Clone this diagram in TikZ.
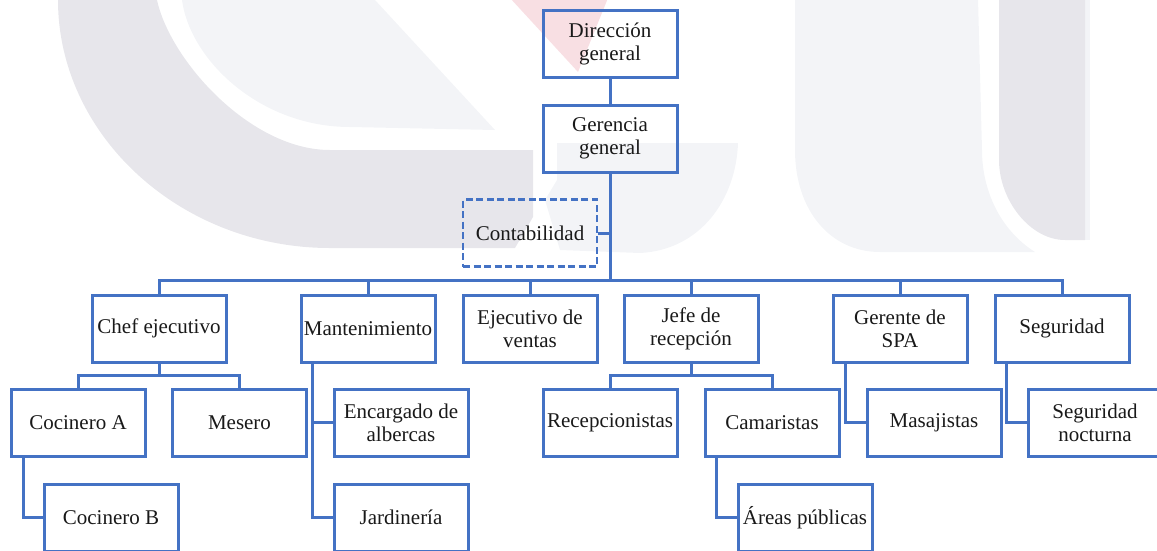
\documentclass[tikz,border=0pt]{standalone}
\usepackage{fontspec}
\setmainfont{Liberation Serif}
\usetikzlibrary{calc}
\definecolor{orgblue}{HTML}{4472C4}
\definecolor{wmdark}{HTML}{E7E6EB}
\definecolor{wmlight}{HTML}{F3F4F7}
\definecolor{wmpink}{HTML}{F8DFE3}
\begin{document}
\begin{tikzpicture}[x=1pt,y=-1pt,
  box/.style={draw=orgblue, line width=3pt, minimum width=134pt, minimum height=67pt,
    inner sep=1pt, align=center, font=\fontsize{21}{23}\selectfont, text=black!90},
  dbox/.style={box, dash pattern=on 7pt off 3.5pt, line width=2.4pt},
  link/.style={draw=orgblue, line width=3pt}]
\useasboundingbox (0,0) rectangle (1157,550);
\clip (0,0) rectangle (1157,550);
% faint background watermark
\fill[wmlight] (182,-2) -- (182,0) .. controls (190,60) and (260,127) .. (350,127) -- (495,130) -- (375,0) -- (375,-2) -- cycle;
\fill[wmdark] (58,-2) -- (58,0) .. controls (58,135) and (180,248) .. (330,248) -- (515,248) -- (533,217) -- (533,150) -- (330,150) .. controls (250,150) and (170,60) .. (157,0) -- (157,-2) -- cycle;
\fill[wmlight] (557,143) -- (738,143) .. controls (736,200) and (700,250) .. (640,253) -- (560,250) -- (545,200) -- (557,180) -- cycle;
\fill[wmlight] (795,-2) -- (795,150) .. controls (795,210) and (830,252) .. (880,252) -- (1035,252) .. controls (1000,230) and (982,190) .. (982,150) -- (978,-2) -- cycle;
\fill[wmlight] (1084,-2) -- (1090,-2) -- (1090,240) -- (1084,240) -- cycle;
\fill[wmdark] (999,-2) -- (999,160) .. controls (999,200) and (1030,240) .. (1065,240) -- (1085,240) -- (1085,-2) -- cycle;
\fill[wmpink] (510,-2) -- (608,-2) -- (578,72) -- cycle;
% nodes
\node[box] (dir) at (610,43.5) {Dirección\\general};
\node[box] (ger) at (610,138.5) {Gerencia\\general};
\node[dbox] (cont) at (530,233) {Contabilidad};
\node[box] (chef) at (159,328.5) {Chef ejecutivo};
\node[box] (mant) at (368,328.5) {Mantenimiento};
\node[box] (ejec) at (530,328.5) {Ejecutivo de\\ventas};
\node[box] (jefe) at (691,328.5) {Jefe de\\recepción};
\node[box] (spa) at (900,328.5) {Gerente de\\SPA};
\node[box] (seg) at (1062,328.5) {Seguridad};
\node[box] (cocA) at (78,422.5) {Cocinero A};
\node[box] (mes) at (239.5,422.5) {Mesero};
\node[box] (cocB) at (111,517.5) {Cocinero B};
\node[box] (enc) at (401,422.5) {Encargado de\\albercas};
\node[box] (jard) at (401,517.5) {Jardinería};
\node[box] (recep) at (610,422.5) {Recepcionistas};
\node[box] (cam) at (772,422.5) {Camaristas};
\node[box] (areas) at (805,517.5) {Áreas públicas};
\node[box] (mas) at (934,422.5) {Masajistas};
\node[box] (segn) at (1095,422.5) {Seguridad\\nocturna};
% connectors
\coordinate (trunk) at (610,280);
\draw[link] (dir.south) -- (ger.north);
\draw[link] (ger.south) -- (trunk);
\draw[link] (cont.east) -- (cont.east -| trunk);
\draw[link] (chef.north) |- (trunk) -| (seg.north);
\foreach \n in {mant,ejec,jefe,spa} \draw[link] (\n.north) -- (\n.north |- trunk);
\coordinate (chefbus) at ($(chef.south)!0.5!(chef.south |- cocA.north)$);
\draw[link] (chef.south) -- (chefbus);
\draw[link] (cocA.north) |- (chefbus) -| (mes.north);
\coordinate (jefebus) at ($(jefe.south)!0.5!(jefe.south |- recep.north)$);
\draw[link] (jefe.south) -- (jefebus);
\draw[link] (recep.north) |- (jefebus) -| (cam.north);
\coordinate (cocAx) at ($(cocA.south west)+(14,0)$);
\draw[link] (cocAx) |- (cocB.west);
\coordinate (mantx) at ($(mant.south west)+(13,0)$);
\draw[link] (mantx) |- (jard.west);
\draw[link] (mantx |- enc.west) -- (enc.west);
\coordinate (camx) at ($(cam.south west)+(13,0)$);
\draw[link] (camx) |- (areas.west);
\coordinate (spax) at ($(spa.south west)+(14,0)$);
\draw[link] (spax) |- (mas.west);
\coordinate (segx) at ($(seg.south west)+(13,0)$);
\draw[link] (segx) |- (segn.west);
\end{tikzpicture}
\end{document}
